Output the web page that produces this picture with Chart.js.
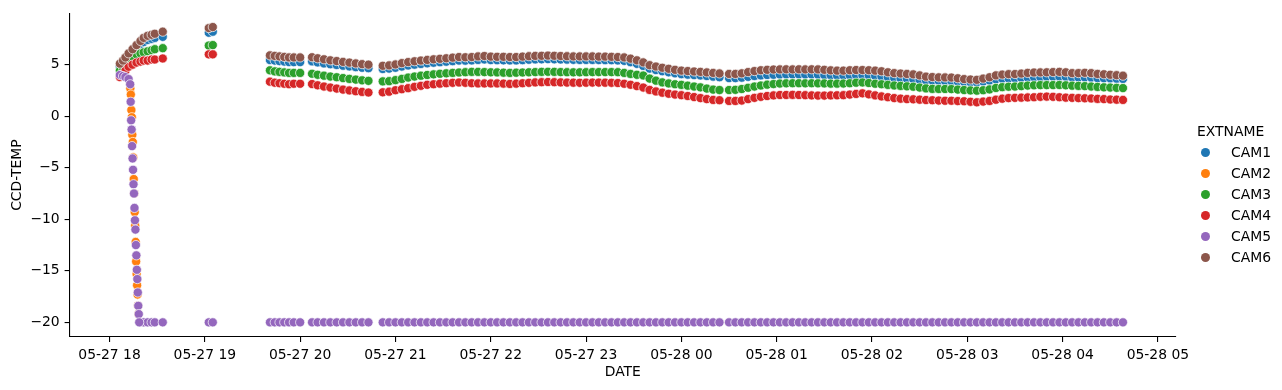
<!DOCTYPE html>
<html>
<head>
<meta charset="utf-8">
<script src="https://cdn.jsdelivr.net/npm/chart.js@4.4.0/dist/chart.umd.min.js"></script>
<style>
html, body { margin: 0; padding: 0; background: #fff; }
#wrap { position: relative; width: 1282px; height: 390px; overflow: hidden; }
#c { position: absolute; left: 0; top: 0; }
.lg { position: absolute; font-family: 'DejaVu Sans', sans-serif; font-size: 13.9px; color: #000; white-space: nowrap; line-height: 18px; height: 18px; }
.dot { position: absolute; width: 9px; height: 9px; border-radius: 50%; }
</style>
</head>
<body>
<div id="wrap">
  <canvas id="c" width="1282" height="390"></canvas>
</div>
<script>
// ---------- DATA (minutes after 05-27 18:00) ----------
const cameraNames = ['CAM1', 'CAM2', 'CAM3', 'CAM4', 'CAM5', 'CAM6'];
const legendTitle = 'EXTNAME';
const xTickMinutes = [0, 60, 120, 180, 240, 300, 360, 420, 480, 540, 600, 660];
const xTickLabels = ['05-27 18', '05-27 19', '05-27 20', '05-27 21', '05-27 22', '05-27 23',
                     '05-28 00', '05-28 01', '05-28 02', '05-28 03', '05-28 04', '05-28 05'];
const yTickValues = [-20, -15, -10, -5, 0, 5];
const yTickLabels = ['\u221220', '\u221215', '\u221210', '\u22125', '0', '5'];

const sampleMinutes = [
  6.5, 8.5, 10, 12, 14.5, 17, 19.5, 21.5, 24, 26.5, 28.5, 33.5,
  62.5, 65,
  101, 104, 107, 110, 113, 116, 120,
  127.5, 131, 135, 139, 143, 147, 151, 155, 159, 163,
  172, 176, 180, 184, 188, 192, 196, 200, 204, 208, 212, 216, 220, 224, 228, 232, 236, 240,
  244, 248, 252, 256, 260, 264, 268, 272, 276, 280, 284, 288, 292, 296, 300, 304, 308, 312,
  316, 320, 324, 328, 332, 336, 340, 344, 348, 352, 356, 360, 364, 368, 372, 376, 380, 384,
  390, 394, 398, 402, 406, 410, 414, 418, 422, 426, 430, 434, 438, 442, 446, 450, 454, 458,
  462, 466, 470, 474, 478, 482, 486, 490, 494, 498, 502, 506, 510, 514, 518, 522, 526, 530,
  534, 538, 542, 546, 550, 554, 558, 562, 566, 570, 574, 578, 582, 586, 590, 594, 598, 602,
  606, 610, 614, 618, 622, 626, 630, 634, 638
];

const cam6 = [
  5.1, 5.4, 5.7, 6.1, 6.5, 6.9, 7.3, 7.6, 7.8, 7.9, 8.0, 8.2,
  8.55, 8.65,
  5.9, 5.85, 5.8, 5.75, 5.7, 5.7, 5.7,
  5.72, 5.62, 5.52, 5.42, 5.35, 5.27, 5.2, 5.12, 5.05, 5.0,
  4.89, 4.93, 5.02, 5.15, 5.25, 5.33, 5.40, 5.46, 5.52, 5.57, 5.62, 5.68, 5.74, 5.72, 5.74, 5.80, 5.84, 5.78,
  5.76, 5.76, 5.74, 5.74, 5.78, 5.82, 5.85, 5.86, 5.88, 5.86, 5.84, 5.82, 5.80, 5.80, 5.80, 5.80, 5.78, 5.78,
  5.76, 5.74, 5.70, 5.58, 5.42, 5.22, 4.95, 4.82, 4.70, 4.60, 4.50, 4.42, 4.38, 4.34, 4.30, 4.25, 4.20, 4.15,
  4.10, 4.10, 4.16, 4.28, 4.38, 4.46, 4.50, 4.53, 4.54, 4.55, 4.54, 4.55, 4.54, 4.55, 4.54, 4.50, 4.45, 4.42,
  4.42, 4.46, 4.48, 4.48, 4.46, 4.42, 4.36, 4.26, 4.18, 4.14, 4.10, 4.06, 3.96, 3.84, 3.80, 3.77, 3.76, 3.75,
  3.68, 3.60, 3.56, 3.53, 3.65, 3.78, 3.96, 4.04, 4.08, 4.09, 4.14, 4.20, 4.24, 4.25, 4.26, 4.28, 4.30, 4.26,
  4.18, 4.18, 4.21, 4.18, 4.10, 4.07, 4.02, 3.98, 3.93
];

const cam1 = [
  4.8, 5.1, 5.4, 5.8, 6.2, 6.6, 7.0, 7.2, 7.4, 7.5, 7.6, 7.7,
  8.1, 8.2,
  5.45, 5.4, 5.35, 5.3, 5.25, 5.25, 5.25,
  5.32, 5.22, 5.12, 5.04, 4.97, 4.9, 4.83, 4.76, 4.7, 4.66,
  4.58, 4.62, 4.70, 4.82, 4.92, 5.00, 5.07, 5.13, 5.19, 5.24, 5.29, 5.34, 5.40, 5.39, 5.41, 5.46, 5.50, 5.45,
  5.43, 5.42, 5.41, 5.41, 5.44, 5.48, 5.51, 5.52, 5.54, 5.52, 5.50, 5.49, 5.47, 5.46, 5.46, 5.46, 5.45, 5.44,
  5.43, 5.41, 5.37, 5.24, 5.08, 4.88, 4.62, 4.48, 4.36, 4.26, 4.16, 4.08, 4.03, 3.99, 3.95, 3.90, 3.84, 3.78,
  3.70, 3.70, 3.74, 3.82, 3.90, 3.96, 4.00, 4.02, 4.04, 4.05, 4.05, 4.05, 4.04, 4.04, 4.03, 4.00, 3.98, 3.95,
  3.95, 3.97, 3.98, 3.98, 3.96, 3.92, 3.86, 3.78, 3.72, 3.68, 3.64, 3.60, 3.54, 3.48, 3.45, 3.43, 3.42, 3.42,
  3.38, 3.33, 3.30, 3.28, 3.36, 3.46, 3.58, 3.64, 3.67, 3.68, 3.72, 3.76, 3.79, 3.80, 3.82, 3.83, 3.84, 3.82,
  3.76, 3.75, 3.76, 3.74, 3.70, 3.68, 3.66, 3.64, 3.62
];

const cam3 = [
  4.4, 4.7, 5.0, 5.4, 5.8, 6.0, 6.1, 6.2, 6.3, 6.4, 6.5, 6.6,
  6.85, 6.9,
  4.45, 4.35, 4.3, 4.25, 4.2, 4.2, 4.2,
  4.12, 4.02, 3.93, 3.85, 3.78, 3.7, 3.62, 3.55, 3.48, 3.43,
  3.38, 3.40, 3.50, 3.62, 3.75, 3.85, 3.93, 4.00, 4.06, 4.12, 4.16, 4.20, 4.24, 4.27, 4.30, 4.30, 4.28, 4.26,
  4.25, 4.22, 4.20, 4.22, 4.24, 4.26, 4.28, 4.30, 4.31, 4.30, 4.28, 4.27, 4.26, 4.26, 4.27, 4.28, 4.28, 4.28,
  4.28, 4.27, 4.20, 4.10, 4.02, 3.95, 3.65, 3.45, 3.28, 3.18, 3.10, 3.04, 2.96, 2.88, 2.80, 2.68, 2.58, 2.54,
  2.54, 2.56, 2.64, 2.76, 2.88, 2.98, 3.06, 3.12, 3.17, 3.19, 3.20, 3.20, 3.19, 3.20, 3.19, 3.18, 3.16, 3.16,
  3.17, 3.20, 3.25, 3.27, 3.22, 3.15, 3.10, 3.04, 2.98, 2.94, 2.90, 2.86, 2.78, 2.70, 2.65, 2.64, 2.64, 2.63,
  2.58, 2.54, 2.50, 2.48, 2.52, 2.60, 2.74, 2.82, 2.86, 2.88, 2.92, 2.97, 3.00, 3.02, 3.02, 3.02, 3.03, 3.00,
  2.96, 2.94, 2.92, 2.88, 2.84, 2.80, 2.78, 2.75, 2.73
];

const cam4 = [
  3.8, 4.1, 4.4, 4.8, 5.0, 5.2, 5.3, 5.4, 5.4, 5.5, 5.5, 5.6,
  6.0, 6.0,
  3.35, 3.25, 3.2, 3.15, 3.1, 3.15, 3.15,
  3.12, 3.0, 2.88, 2.78, 2.68, 2.58, 2.5, 2.42, 2.36, 2.3,
  2.32, 2.38, 2.52, 2.62, 2.72, 2.85, 2.95, 3.05, 3.10, 3.16, 3.20, 3.24, 3.27, 3.24, 3.20, 3.18, 3.18, 3.18,
  3.18, 3.16, 3.13, 3.16, 3.20, 3.24, 3.28, 3.30, 3.32, 3.30, 3.28, 3.26, 3.25, 3.24, 3.25, 3.26, 3.26, 3.25,
  3.24, 3.22, 3.15, 3.05, 2.92, 2.78, 2.55, 2.40, 2.28, 2.18, 2.10, 2.04, 1.96, 1.86, 1.76, 1.66, 1.58, 1.55,
  1.48, 1.48, 1.52, 1.66, 1.78, 1.88, 1.96, 2.02, 2.06, 2.06, 2.07, 2.06, 2.04, 2.02, 2.00, 2.00, 2.02, 2.03,
  2.04, 2.10, 2.16, 2.22, 2.12, 2.02, 1.92, 1.84, 1.76, 1.70, 1.66, 1.64, 1.60, 1.57, 1.55, 1.52, 1.50, 1.50,
  1.47, 1.45, 1.40, 1.35, 1.42, 1.48, 1.60, 1.70, 1.76, 1.78, 1.80, 1.82, 1.84, 1.88, 1.90, 1.88, 1.84, 1.80,
  1.78, 1.76, 1.74, 1.72, 1.68, 1.66, 1.62, 1.60, 1.58
];

const cam5 = [
  4.0, 3.9, 3.8, 3.6, null, null, -20, -20, -20, -20, -20, -20,
  -20, -20,
  -20, -20, -20, -20, -20, -20, -20,
  -20, -20, -20, -20, -20, -20, -20, -20, -20, -20,
  -20, -20, -20, -20, -20, -20, -20, -20, -20, -20, -20, -20, -20, -20, -20, -20, -20, -20,
  -20, -20, -20, -20, -20, -20, -20, -20, -20, -20, -20, -20, -20, -20, -20, -20, -20, -20,
  -20, -20, -20, -20, -20, -20, -20, -20, -20, -20, -20, -20, -20, -20, -20, -20, -20, -20,
  -20, -20, -20, -20, -20, -20, -20, -20, -20, -20, -20, -20, -20, -20, -20, -20, -20, -20,
  -20, -20, -20, -20, -20, -20, -20, -20, -20, -20, -20, -20, -20, -20, -20, -20, -20, -20,
  -20, -20, -20, -20, -20, -20, -20, -20, -20, -20, -20, -20, -20, -20, -20, -20, -20, -20,
  -20, -20, -20, -20, -20, -20, -20, -20, -20
];

// cool-down of CAM2 and CAM5 right after start
const cam5DropMinutes = [13.0, 13.3, 13.6, 13.9, 14.2, 14.5, 14.8, 15.1, 15.4, 15.7,
                         16.0, 16.3, 16.6, 16.9, 17.2, 17.5, 17.8, 18.1, 18.4, 18.7];
const cam5DropValues  = [3.1, 1.4, -0.4, -1.3, -2.9, -4.1, -5.2, -6.6, -7.5, -8.9,
                         -10.1, -11.0, -12.5, -13.5, -14.9, -15.8, -17.1, -18.4, -19.2, -20.0];
const cam2DropMinutes = [13.1, 13.4, 13.75, 14.05, 14.35, 14.65, 14.95, 15.25, 15.55,
                         15.85, 16.15, 16.45, 16.75, 17.05, 17.35, 17.65, 17.95, 18.25];
const cam2DropValues  = [2.7, 2.1, 0.6, -0.1, -1.8, -2.5, -4.0, -6.1, -7.5,
                         -9.3, -10.6, -12.2, -14.1, -15.3, -16.4, -17.3, -18.4, -19.2];

const colors = ['#1f77b4', '#ff7f0e', '#2ca02c', '#d62728', '#9467bd', '#8c564b'];

// ---------- BUILD ----------
function pts(xs, ys) {
  const out = [];
  for (let i = 0; i < xs.length; i++) if (ys[i] !== null && ys[i] !== undefined) out.push({x: xs[i], y: ys[i]});
  return out;
}
const seriesPoints = [
  pts(sampleMinutes, cam1),
  pts(cam2DropMinutes, cam2DropValues),
  pts(sampleMinutes, cam3),
  pts(sampleMinutes, cam4),
  pts(sampleMinutes, cam5).concat(pts(cam5DropMinutes, cam5DropValues)),
  pts(sampleMinutes, cam6)
];

Chart.defaults.font.family = "'DejaVu Sans', sans-serif";
Chart.defaults.font.size = 13.9;
Chart.defaults.color = '#000';

const datasets = cameraNames.map((name, i) => ({
  label: name,
  data: seriesPoints[i],
  backgroundColor: colors[i],
  borderColor: '#ffffff',
  borderWidth: 0.7,
  pointRadius: 4.6,
  pointHoverRadius: 4.6,
  order: cameraNames.length - 1 - i
}));

new Chart(document.getElementById('c'), {
  type: 'scatter',
  data: { datasets },
  options: {
    responsive: false,
    animation: false,
    events: [],
    layout: { padding: { top: 10, right: 106, bottom: 0, left: 0 } },
    plugins: { legend: { display: false }, tooltip: { enabled: false } },
    scales: {
      x: {
        type: 'linear',
        min: -25.2,
        max: 671.4,
        afterBuildTicks: s => { s.ticks = xTickMinutes.map(v => ({ value: v })); },
        afterFit: s => { s.height = 53; },
        ticks: {
          autoSkip: false, maxRotation: 0, minRotation: 0, padding: 4.9,
          callback: v => xTickLabels[xTickMinutes.indexOf(v)]
        },
        grid: { display: true, drawOnChartArea: false, drawTicks: true, tickLength: 4.9, color: '#000', lineWidth: 1.1 },
        border: { display: true, color: '#000', width: 1.1 },
        title: { display: true, text: 'DATE', padding: { top: 0, bottom: 9.7 } }
      },
      y: {
        type: 'linear',
        min: -21.42,
        max: 9.99,
        afterBuildTicks: s => { s.ticks = yTickValues.map(v => ({ value: v })); },
        afterFit: s => { s.width = 69.5; },
        ticks: {
          padding: 4.9,
          callback: v => yTickLabels[yTickValues.indexOf(v)]
        },
        grid: { display: true, drawOnChartArea: false, drawTicks: true, tickLength: 4.9, color: '#000', lineWidth: 1.1 },
        border: { display: true, color: '#000', width: 1.1 },
        title: { display: true, text: 'CCD-TEMP', padding: { top: 8.7, bottom: 0 } }
      }
    }
  }
});

// ---------- LEGEND (HTML) ----------
const wrap = document.getElementById('wrap');
const t = document.createElement('div');
t.className = 'lg';
t.textContent = legendTitle;
t.style.left = '1197px';
t.style.top = (131 - 9) + 'px';
wrap.appendChild(t);
cameraNames.forEach((name, i) => {
  const cy = 152.3 + i * 20.95;
  const d = document.createElement('div');
  d.className = 'dot';
  d.style.background = colors[i];
  d.style.left = (1205 - 4.5) + 'px';
  d.style.top = (cy - 4.5) + 'px';
  wrap.appendChild(d);
  const l = document.createElement('div');
  l.className = 'lg';
  l.textContent = name;
  l.style.left = '1231px';
  l.style.top = (cy - 9) + 'px';
  wrap.appendChild(l);
});
</script>
</body>
</html>
